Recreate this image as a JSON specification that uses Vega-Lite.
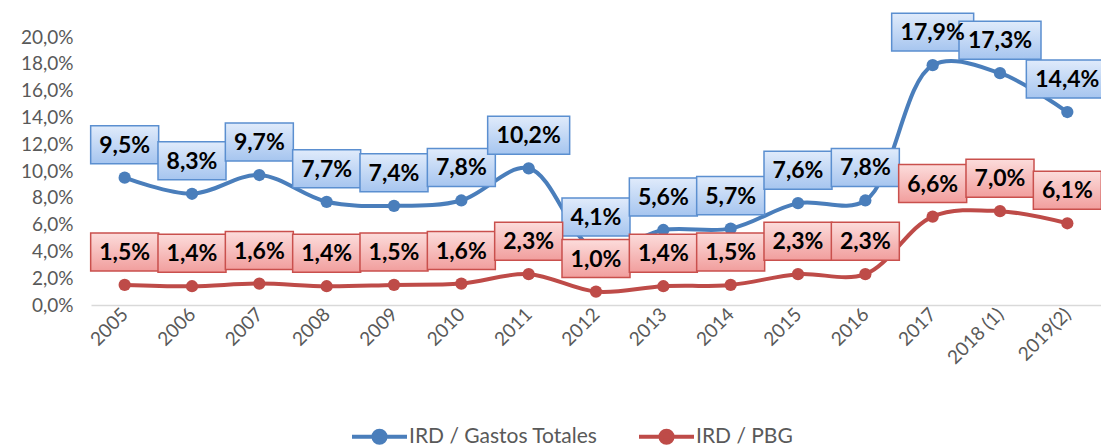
{
  "$schema": "https://vega.github.io/schema/vega-lite/v6.json",
  "autosize": "none",
  "width": 1010,
  "height": 268,
  "padding": {"left": 91, "top": 37, "right": 0, "bottom": 141},
  "background": "white",
  "config": {
    "locale": {"number": {"decimal": ",", "thousands": ".", "grouping": [3], "currency": ["", " €"]}},
    "view": {"stroke": null},
    "font": "Lato"
  },
  "data": {
    "values": [
      {"year": "2005", "serie": "IRD / Gastos Totales", "value": 0.095},
      {"year": "2006", "serie": "IRD / Gastos Totales", "value": 0.083},
      {"year": "2007", "serie": "IRD / Gastos Totales", "value": 0.097},
      {"year": "2008", "serie": "IRD / Gastos Totales", "value": 0.077},
      {"year": "2009", "serie": "IRD / Gastos Totales", "value": 0.074},
      {"year": "2010", "serie": "IRD / Gastos Totales", "value": 0.078},
      {"year": "2011", "serie": "IRD / Gastos Totales", "value": 0.102},
      {"year": "2012", "serie": "IRD / Gastos Totales", "value": 0.041},
      {"year": "2013", "serie": "IRD / Gastos Totales", "value": 0.056},
      {"year": "2014", "serie": "IRD / Gastos Totales", "value": 0.057},
      {"year": "2015", "serie": "IRD / Gastos Totales", "value": 0.076},
      {"year": "2016", "serie": "IRD / Gastos Totales", "value": 0.078},
      {"year": "2017", "serie": "IRD / Gastos Totales", "value": 0.179},
      {"year": "2018 (1)", "serie": "IRD / Gastos Totales", "value": 0.173},
      {"year": "2019(2)", "serie": "IRD / Gastos Totales", "value": 0.144},
      {"year": "2005", "serie": "IRD / PBG", "value": 0.015},
      {"year": "2006", "serie": "IRD / PBG", "value": 0.014},
      {"year": "2007", "serie": "IRD / PBG", "value": 0.016},
      {"year": "2008", "serie": "IRD / PBG", "value": 0.014},
      {"year": "2009", "serie": "IRD / PBG", "value": 0.015},
      {"year": "2010", "serie": "IRD / PBG", "value": 0.016},
      {"year": "2011", "serie": "IRD / PBG", "value": 0.023},
      {"year": "2012", "serie": "IRD / PBG", "value": 0.010},
      {"year": "2013", "serie": "IRD / PBG", "value": 0.014},
      {"year": "2014", "serie": "IRD / PBG", "value": 0.015},
      {"year": "2015", "serie": "IRD / PBG", "value": 0.023},
      {"year": "2016", "serie": "IRD / PBG", "value": 0.023},
      {"year": "2017", "serie": "IRD / PBG", "value": 0.066},
      {"year": "2018 (1)", "serie": "IRD / PBG", "value": 0.070},
      {"year": "2019(2)", "serie": "IRD / PBG", "value": 0.061}
    ]
  },
  "encoding": {
    "x": {
      "field": "year", "type": "ordinal", "title": null,
      "scale": {"type": "point", "padding": 0.5},
      "axis": {
        "labelAngle": -45, "labelAlign": "right", "labelBaseline": "middle",
        "labelFontSize": 19, "labelColor": "#595959", "labelPadding": 6,
        "ticks": false, "domainColor": "#d9d9d9", "domainWidth": 1.5, "grid": false
      }
    },
    "y": {
      "field": "value", "type": "quantitative", "title": null,
      "scale": {"domain": [0, 0.2], "nice": false},
      "axis": {
        "format": ".1%", "values": [0, 0.02, 0.04, 0.06, 0.08, 0.1, 0.12, 0.14, 0.16, 0.18, 0.2],
        "labelFontSize": 19, "labelColor": "#595959", "labelPadding": 18,
        "ticks": false, "domain": false, "grid": false
      }
    }
  },
  "layer": [
    {
      "mark": {"type": "line", "interpolate": "catmull-rom", "strokeWidth": 4, "point": {"size": 150, "filled": true}},
      "encoding": {
        "color": {
          "field": "serie", "type": "nominal",
          "scale": {"domain": ["IRD / Gastos Totales", "IRD / PBG"], "range": ["#4a7ebb", "#be4b48"]},
          "legend": {
            "title": null, "orient": "none", "direction": "horizontal",
            "legendX": 259, "legendY": 370,
            "labelFontSize": 21, "labelColor": "#595959", "labelOffset": 0, "labelLimit": 400,
            "columnPadding": 33,
            "symbolType": "M-1,0H1M-0.22,0a0.22,0.22 0 1,0 0.44,0a0.22,0.22 0 1,0 -0.44,0Z",
            "symbolSize": 3025, "symbolStrokeWidth": 4,
            "encode": {"symbols": {"update": {"fill": {"scale": "color", "field": "value"}, "fillOpacity": {"value": 1}}}}
          }
        }
      }
    },
    {
      "transform": [{"filter": "datum.serie === 'IRD / Gastos Totales' && datum.value < 0.1"}],
      "mark": {
        "type": "point", "shape": "M-1,-0.559H1V0.559H-1Z", "size": 4624, "yOffset": -33,
        "filled": true, "opacity": 1, "strokeWidth": 1.5, "stroke": "#5b8fd0",
        "fill": {"gradient": "linear", "x1": 0, "y1": 0, "x2": 0, "y2": 1, "stops": [{"offset": 0, "color": "#e0ebfb"}, {"offset": 1, "color": "#a6c5ef"}]}
      }
    },
    {
      "transform": [{"filter": "datum.serie === 'IRD / Gastos Totales' && datum.value >= 0.1"}],
      "mark": {
        "type": "point", "shape": "M-1,-0.463H1V0.463H-1Z", "size": 6724, "yOffset": -33,
        "filled": true, "opacity": 1, "strokeWidth": 1.5, "stroke": "#5b8fd0",
        "fill": {"gradient": "linear", "x1": 0, "y1": 0, "x2": 0, "y2": 1, "stops": [{"offset": 0, "color": "#e0ebfb"}, {"offset": 1, "color": "#a6c5ef"}]}
      }
    },
    {
      "transform": [{"filter": "datum.serie === 'IRD / PBG'"}],
      "mark": {
        "type": "point", "shape": "M-1,-0.559H1V0.559H-1Z", "size": 4624, "yOffset": -33,
        "filled": true, "opacity": 1, "strokeWidth": 1.5, "stroke": "#c9504d",
        "fill": {"gradient": "linear", "x1": 0, "y1": 0, "x2": 0, "y2": 1, "stops": [{"offset": 0, "color": "#fcdcdb"}, {"offset": 1, "color": "#f19e9d"}]}
      }
    },
    {
      "mark": {"type": "text", "dy": -32, "fontSize": 23, "fontWeight": "bold", "color": "black", "font": "Lato"},
      "encoding": {"text": {"field": "value", "type": "quantitative", "format": ".1%"}}
    }
  ]
}
